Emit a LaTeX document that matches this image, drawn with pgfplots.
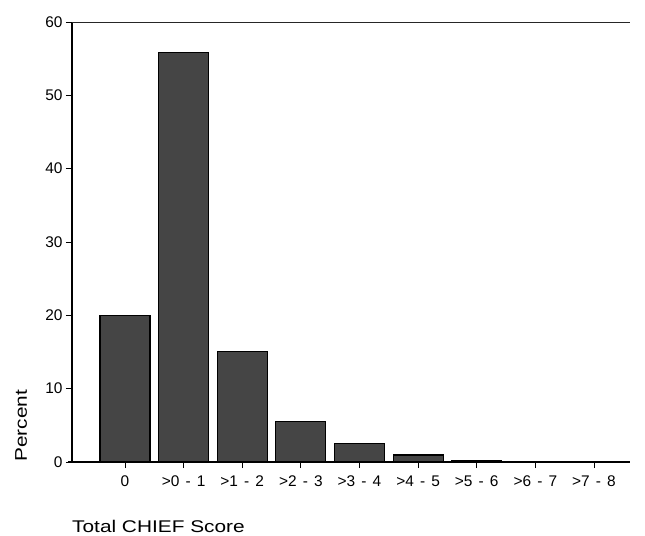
\documentclass[border=0pt]{standalone}
\usepackage{pgfplots}
\pgfplotsset{compat=1.18}
\usepackage{fontspec}
\setmainfont{Liberation Sans}
\newfontfamily\labfont[FakeStretch=1.23]{Liberation Sans}
\newcommand{\sep}{\hspace{0.4em}-\hspace{0.4em}}
\begin{document}
\begin{tikzpicture}
\path[use as bounding box] (-72bp,-74bp) rectangle (573bp,462bp);
\begin{axis}[
  scale only axis, width=558bp, height=440bp,
  xmin=-0.904, xmax=8.614, ymin=0, ymax=60,
  axis x line*=bottom, axis y line*=left,
  axis line style={line width=1.1bp, black},
  tick align=outside, major tick length=6bp,
  tick style={line width=0.9bp, black},
  xtick={0,1,2,3,4,5,6,7,8},
  xticklabels={0, >0\sep1, >1\sep2, >2\sep3, >3\sep4, >4\sep5, >5\sep6, >6\sep7, >7\sep8},
  ytick={0,10,20,30,40,50,60},
  /pgf/number format/assume math mode=true,
  tick label style={font=\fontsize{15.5}{15.5}\selectfont},
  xticklabel style={yshift=-4bp},
  ybar, bar width=50bp,
]
\addplot[fill=black!73, draw=black, line width=1.2bp] coordinates {
  (0,20.0) (1,55.8) (2,15.1) (3,5.5) (4,2.5) (5,0.95) (6,0.25) (7,0) (8,0)
};
\draw[line width=1.1bp, black!85] (rel axis cs:0,1) -- (rel axis cs:1,1);
\end{axis}
\draw[line width=1.1bp] (-4bp,0) -- (0,0);
\node[rotate=90, anchor=base west, inner sep=0pt, font=\fontsize{17}{17}\selectfont\labfont] at (-45bp,0bp) {Percent};
\node[anchor=base west, inner sep=0pt, font=\fontsize{17}{17}\selectfont\labfont] at (0bp,-70bp) {Total CHIEF Score};
\end{tikzpicture}
\end{document}
